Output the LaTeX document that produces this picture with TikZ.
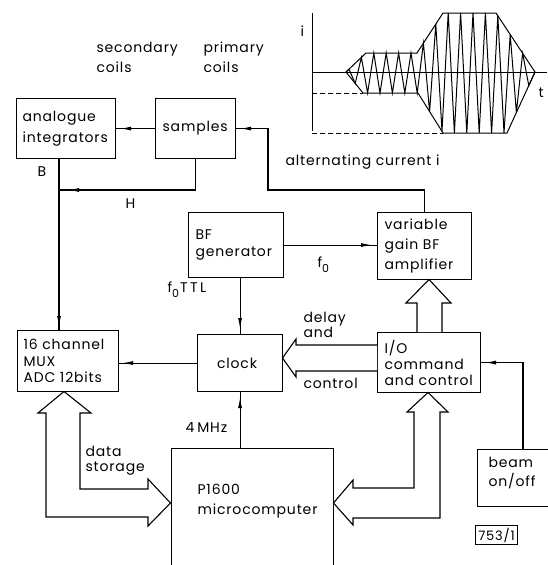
\documentclass[tikz,border=0pt]{standalone}
\usepackage{fontspec}
\setmainfont{Poppins}[LetterSpace=6]
\usetikzlibrary{arrows.meta,decorations.markings}

\begin{document}
\begin{tikzpicture}[x=1pt,y=-1pt, line width=1.1pt,
  box/.style={draw, line width=1.1pt, inner sep=0pt, anchor=north west},
  txt/.style={inner sep=0pt, align=left},
  lbl/.style={inner sep=0pt, anchor=base west},
  sig/.style={postaction={decorate}, decoration={markings,
     mark=at position -#1 with {\arrow{Latex[length=11pt,width=4pt]}}}},
  sig/.default=4pt,
  hollow/.style={draw, line width=1.1pt, line join=miter, fill=white},
  wave/.style={line width=1pt, line join=miter},
  font=\fontsize{14}{17}\selectfont
]
\useasboundingbox (0,0) rectangle (547,565);

% ---- current waveform ----
\draw[wave] (312,13) -- (312,131);
\draw[wave] (312,72) -- (547,72);
\draw[wave, dashed, dash pattern=on 5pt off 3pt] (312,93) -- (363,93);
\draw[wave, dashed, dash pattern=on 5pt off 3pt] (312,133) -- (443,133);
\draw[wave] (346,72) -- (366,53) -- (417,53) -- (443,13) -- (496,13) -- (535,72)
  -- (507,133) -- (443,133) -- (418,93) -- (363,93) -- cycle;
\draw[wave] (346,72) -- (349,69.2) -- (355.2,83.4) -- (361.4,57.4) -- (367.6,93)
  -- (373.8,53) -- (380,93) -- (386.2,53) -- (392.4,93) -- (398.6,53) -- (404.8,93)
  -- (411,53) -- (417.2,93) -- (423.4,43.2) -- (429.6,111.6) -- (435.8,24.1)
  -- (442,131.4) -- (448.2,13) -- (454.4,133) -- (460.6,13) -- (466.8,133)
  -- (473,13) -- (479.2,133) -- (485.4,13) -- (491.6,133) -- (497.8,15.7)
  -- (504,133) -- (510.2,34.5) -- (516.4,112.5) -- (522.6,53.2) -- (528.8,85.5)
  -- (535,72);
\node[lbl] (iax) at (300,36) {i};
\node[lbl] (tax) at (538,97) {t};

% ---- coil labels ----
\node[lbl] (sec1) at (96,52) {secondary};
\node[lbl] (sec2) at (96,72) {coils};
\node[lbl] (pri1) at (203,52) {primary};
\node[lbl] (pri2) at (203,72) {coils};

% ---- blocks ----
\node[box, minimum width=99pt, minimum height=60pt] (ai) at (16,98) {};
\node[box, minimum width=80pt, minimum height=60pt] (samp) at (155,98) {};
\node[box, minimum width=95pt, minimum height=65pt] (bfg) at (188,212) {};
\node[box, minimum width=94pt, minimum height=67pt] (amp) at (377,212) {};
\node[box, minimum width=101pt, minimum height=61pt] (mux) at (17,330) {};
\node[box, minimum width=85pt, minimum height=57pt] (clk) at (197,334) {};
\node[box, minimum width=103pt, minimum height=60pt] (io) at (377,332) {};
\node[box, minimum width=162pt, minimum height=130pt] (micro) at (171,448) {};
\node[box, minimum width=90pt, minimum height=57pt] (beam) at (477,449) {};

\node[txt, anchor=west, font=\fontsize{14}{21}\selectfont] (ait) at ([xshift=6pt]ai.west) {analogue\\integrators};
\node[txt, anchor=west] (sampt) at ([xshift=7pt]samp.west) {samples};
\node[txt, anchor=west, font=\fontsize{14}{17}\selectfont] (bfgt) at ([xshift=7pt]bfg.west) {BF\\generator};
\node[txt, anchor=west, font=\fontsize{14}{20}\selectfont] (ampt) at ([xshift=7pt]amp.west) {variable\\gain BF\\amplifier};
\node[txt, anchor=west, font=\fontsize{14}{16.5}\selectfont] (muxt) at ([xshift=6pt]mux.west) {16 channel\\MUX\\ADC 12bits};
\node[txt] (clkt) at ([xshift=-3pt]clk.center) {clock};
\node[txt, anchor=west, font=\fontsize{14}{16}\selectfont] (iot) at ([xshift=7pt]io.west) {I/O\\command\\and control};
\node[txt, anchor=west, font=\fontsize{14}{20}\selectfont] (microt) at (197,501) {P1600\\microcomputer};
\node[txt, anchor=north west, font=\fontsize{14}{19}\selectfont] (beamt) at (488,457) {beam\\on/off};

\node[draw, line width=0.9pt, inner xsep=3pt, inner ysep=2.5pt,
      font=\fontsize{13}{13}\selectfont] (tag) at (496.5,535) {753/1};

% ---- signal connectors ----
\draw[sig] (samp.west) -- (ai.east);
\coordinate (turn) at (268,190);
\draw[sig] (amp.north) |- (turn) |- (samp.east);
\coordinate (bx) at (59,190);
\draw[sig=3pt] (ai.south -| bx) -- (mux.north -| bx);
\draw[sig=9pt] (samp.south) |- (bx);
\draw[sig=5pt] (bfg.east) -- (bfg.east -| amp.west);
\draw[sig=5pt] (bfg.south -| clk.north) -- (clk.north);
\draw[sig=3pt] (clk.west) -- (clk.west -| mux.east);
\draw[sig=5pt] (micro.north -| clk.south) -- (clk.south);
\coordinate (bt) at (523,449);
\draw[sig=4pt] (bt) |- (io.east);

% ---- bus arrows ----
\draw[hollow] (417,332) -- (417,303) -- (406,303) -- (429,279.5) -- (451,303)
  -- (442,303) -- (442,332);
\draw[hollow] (377,345) -- (296,345) -- (296,339) -- (282.5,358) -- (296,377)
  -- (296,371) -- (377,371);
\draw[hollow] (64,391.5) -- (91,413) -- (80,413) -- (80,489) -- (148,489)
  -- (148,479) -- (170.5,503) -- (148,526) -- (148,517) -- (46,517) -- (46,413)
  -- (38,413) -- cycle;
\draw[hollow] (428,392.5) -- (448,412) -- (440,412) -- (440,518) -- (353,518)
  -- (353,525) -- (333.5,503) -- (353,480) -- (353,488) -- (414,488) -- (414,412)
  -- (407,412) -- cycle;

% ---- connector labels ----
\node[lbl] (altl) at (285,165) {alternating current i};
\node[lbl] (bl) at (37,176) {B};
\node[lbl] (hl) at (125,208) {H};
\node[lbl] (f0l) at (317,267) {f\raisebox{-5pt}{\fontsize{11}{11}\selectfont 0}};
\node[lbl] (fttl) at (167,292) {f\raisebox{-5pt}{\fontsize{11}{11}\selectfont 0}\hspace{1pt}T\hspace{2.5pt}T\hspace{2.5pt}L};
\node[lbl] (dl1) at (303,322) {delay};
\node[lbl] (dl2) at (303,337) {and};
\node[lbl] (ctl) at (303,388) {control};
\node[lbl] (mhz) at (185,432) {4\hspace{3pt}MHz};
\node[lbl] (ds1) at (85,456) {data};
\node[lbl] (ds2) at (85,471) {storage};
\end{tikzpicture}
\end{document}
